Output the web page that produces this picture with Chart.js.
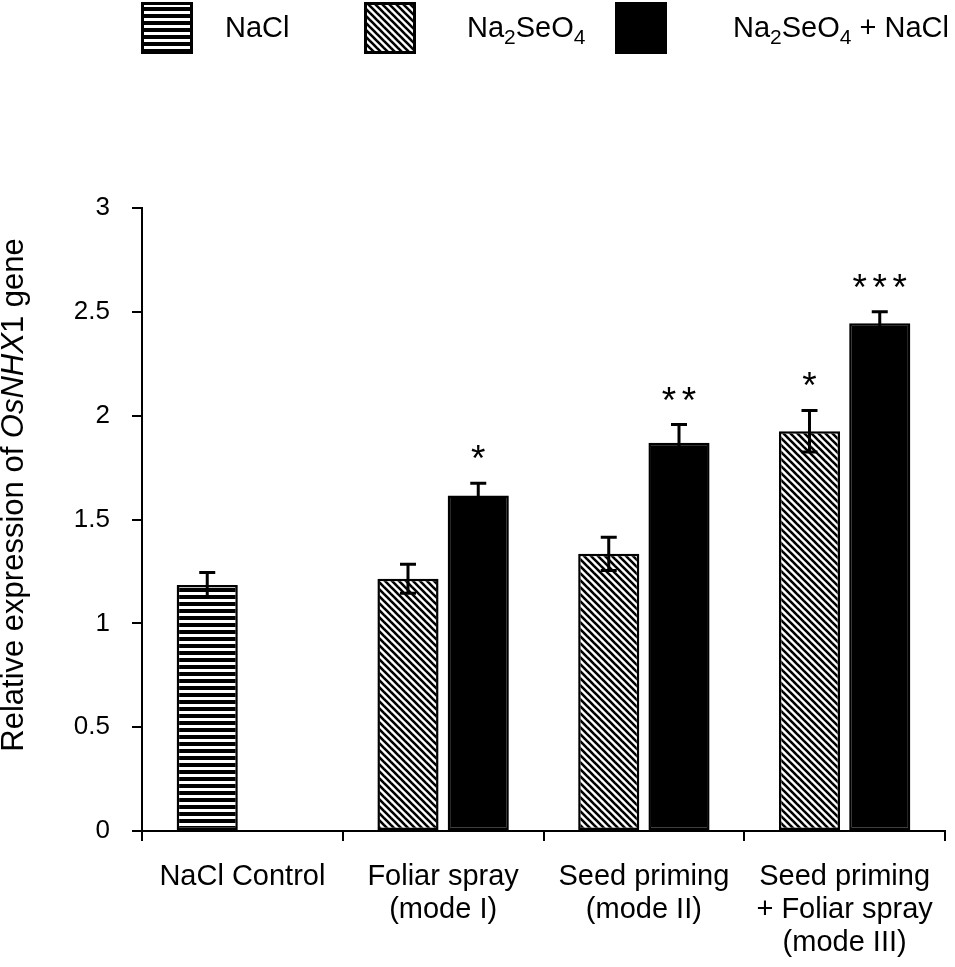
<!doctype html>
<html lang="en">
  <head>
    <meta charset="UTF-8" />
    <title>OsNHX1 expression</title>
    <style>
      html, body { margin: 0; padding: 0; background: #fff; }
    </style>
  </head>
  <body>
    <canvas id="exprChart" width="955" height="967"></canvas>
    <script src="https://cdn.jsdelivr.net/npm/chart.js"></script>
    <script>
      // data
      const categories = [
        ["NaCl Control"],
        ["Foliar spray", "(mode I)"],
        ["Seed priming", "(mode II)"],
        ["Seed priming", "+ Foliar spray", "(mode III)"],
      ];
      const legendLabels = ["NaCl", "Na₂SeO₄", "Na₂SeO₄ + NaCl"];
      const singleValues = [1.185, 1.215, 1.335, 1.925]; // NaCl control, then Na2SeO4 alone
      const singleErrors = [0.06, 0.07, 0.08, 0.1];
      const singleStars = ["", "", "", "*"];
      const comboValues = [null, 1.615, 1.87, 2.445]; // Na2SeO4 + NaCl
      const comboErrors = [null, 0.06, 0.087, 0.055];
      const comboStars = ["", "*", "**", "***"];
      const yTickValues = [0, 0.5, 1, 1.5, 2, 2.5, 3];

      const FONT = '"Liberation Sans", Arial, sans-serif';
      const canvas = document.getElementById("exprChart");
      const ctx = canvas.getContext("2d");

      function makePattern(kind) {
        const s = 7;
        const c = document.createElement("canvas");
        c.width = s;
        c.height = s;
        const g = c.getContext("2d");
        g.fillStyle = "#fff";
        g.fillRect(0, 0, s, s);
        g.fillStyle = "#000";
        g.strokeStyle = "#000";
        if (kind === "h") {
          g.fillRect(0, 0, s, 4);
        } else {
          g.lineWidth = 2.6;
          [-s, 0, s].forEach((dx) => {
            g.beginPath();
            g.moveTo(dx - 1, -1);
            g.lineTo(dx + s + 1, s + 1);
            g.stroke();
          });
        }
        return ctx.createPattern(c, "repeat");
      }
      const hPat = makePattern("h");
      const dPat = makePattern("d");

      // text with unicode subscript digits drawn smaller and lowered
      const SUB = { "₂": "2", "₄": "4" };
      function drawRich(g, text, x, y, size) {
        const runs = [];
        for (const ch of text) {
          const sub = ch in SUB;
          const last = runs[runs.length - 1];
          if (!sub && last && !last.sub) last.t += ch;
          else runs.push({ t: sub ? SUB[ch] : ch, sub });
        }
        runs.forEach((r) => {
          g.font = (r.sub ? Math.round(size * 0.72) : size) + "px " + FONT;
          g.fillText(r.t, x, y + (r.sub ? size * 0.24 : 0));
          x += g.measureText(r.t).width;
        });
      }

      const legendPlugin = {
        id: "boxLegend",
        afterDraw(chart) {
          const g = chart.ctx;
          const fills = [hPat, dPat, "#000"];
          const boxX = [141, 364, 615];
          const textX = [225, 467, 733];
          g.save();
          g.textBaseline = "alphabetic";
          legendLabels.forEach((lab, i) => {
            g.fillStyle = fills[i];
            g.fillRect(boxX[i], 2, 52, 52);
            g.lineWidth = 3;
            g.strokeStyle = "#000";
            g.strokeRect(boxX[i] + 1.5, 3.5, 49, 49);
            g.fillStyle = "#000";
            drawRich(g, lab, textX[i], 37, 29);
          });
          g.restore();
        },
      };

      const yTitlePlugin = {
        id: "yTitle",
        afterDraw(chart) {
          const g = chart.ctx;
          const parts = [
            ["Relative expression of ", "normal"],
            ["OsNHX", "italic"],
            ["1 gene", "normal"],
          ];
          g.save();
          g.translate(14, 495);
          g.rotate(-Math.PI / 2);
          g.textBaseline = "middle";
          g.fillStyle = "#000";
          let total = 0;
          parts.forEach((p) => {
            g.font = p[1] + " 31px " + FONT;
            total += g.measureText(p[0]).width;
          });
          let x = -total / 2;
          parts.forEach((p) => {
            g.font = p[1] + " 31px " + FONT;
            g.fillText(p[0], x, 0);
            x += g.measureText(p[0]).width;
          });
          g.restore();
        },
      };

      const errorBarPlugin = {
        id: "errorBars",
        afterDatasetsDraw(chart) {
          const g = chart.ctx;
          const y = chart.scales.y;
          g.save();
          g.strokeStyle = "#000";
          g.fillStyle = "#000";
          g.lineWidth = 3;
          chart.data.datasets.forEach((ds, i) => {
            chart.getDatasetMeta(i).data.forEach((bar, j) => {
              const v = ds.data[j];
              const e = ds.errors[j];
              if (v == null) return;
              const top = y.getPixelForValue(v + e);
              const bot = y.getPixelForValue(v - e);
              g.beginPath();
              g.moveTo(bar.x, top);
              g.lineTo(bar.x, bot);
              g.moveTo(bar.x - 8, top);
              g.lineTo(bar.x + 8, top);
              g.moveTo(bar.x - 8, bot);
              g.lineTo(bar.x + 8, bot);
              g.stroke();
              // significance asterisks, one glyph every 20px
              const n = ds.stars[j].length;
              g.font = "37px " + FONT;
              g.textAlign = "center";
              g.textBaseline = "alphabetic";
              for (let k = 0; k < n; k++) {
                g.fillText("*", bar.x + (k - (n - 1) / 2) * 20, top - 12);
              }
            });
          });
          g.restore();
        },
      };

      new Chart(ctx, {
        type: "bar",
        data: {
          labels: categories,
          datasets: [
            {
              label: "NaCl / Na₂SeO₄",
              data: singleValues,
              errors: singleErrors,
              stars: singleStars,
              backgroundColor: [hPat, dPat, dPat, dPat],
            },
            {
              label: "Na₂SeO₄ + NaCl",
              data: comboValues,
              errors: comboErrors,
              stars: comboStars,
              backgroundColor: "#000",
            },
          ],
        },
        options: {
          responsive: false,
          animation: false,
          layout: { padding: { top: 208, right: 10, left: 0, bottom: 0 } },
          datasets: {
            bar: {
              categoryPercentage: 0.7,
              barPercentage: 0.87,
              borderColor: "#000",
              borderWidth: 2.5,
              borderSkipped: false,
            },
          },
          plugins: {
            legend: { display: false },
            tooltip: { enabled: false },
          },
          scales: {
            x: {
              grid: {
                offset: true,
                drawOnChartArea: false,
                tickLength: 10,
                color: "#000",
                lineWidth: 2,
              },
              border: { color: "#000", width: 2 },
              ticks: {
                color: "#000",
                font: { family: FONT, size: 29, lineHeight: 1.15 },
                padding: 19,
                maxRotation: 0,
                autoSkip: false,
              },
              afterFit(scale) {
                scale.height = 136;
              },
            },
            y: {
              min: 0,
              max: 3,
              afterBuildTicks(scale) {
                scale.ticks = yTickValues.map((v) => ({ value: v }));
              },
              grid: {
                drawOnChartArea: false,
                tickLength: 10,
                color: "#000",
                lineWidth: 2,
              },
              border: { color: "#000", width: 2 },
              ticks: {
                color: "#000",
                font: { family: FONT, size: 26 },
                padding: 22,
                callback: (v) => String(v),
              },
              afterFit(scale) {
                scale.width = 142;
              },
            },
          },
        },
        plugins: [errorBarPlugin, legendPlugin, yTitlePlugin],
      });
    </script>
  </body>
</html>
